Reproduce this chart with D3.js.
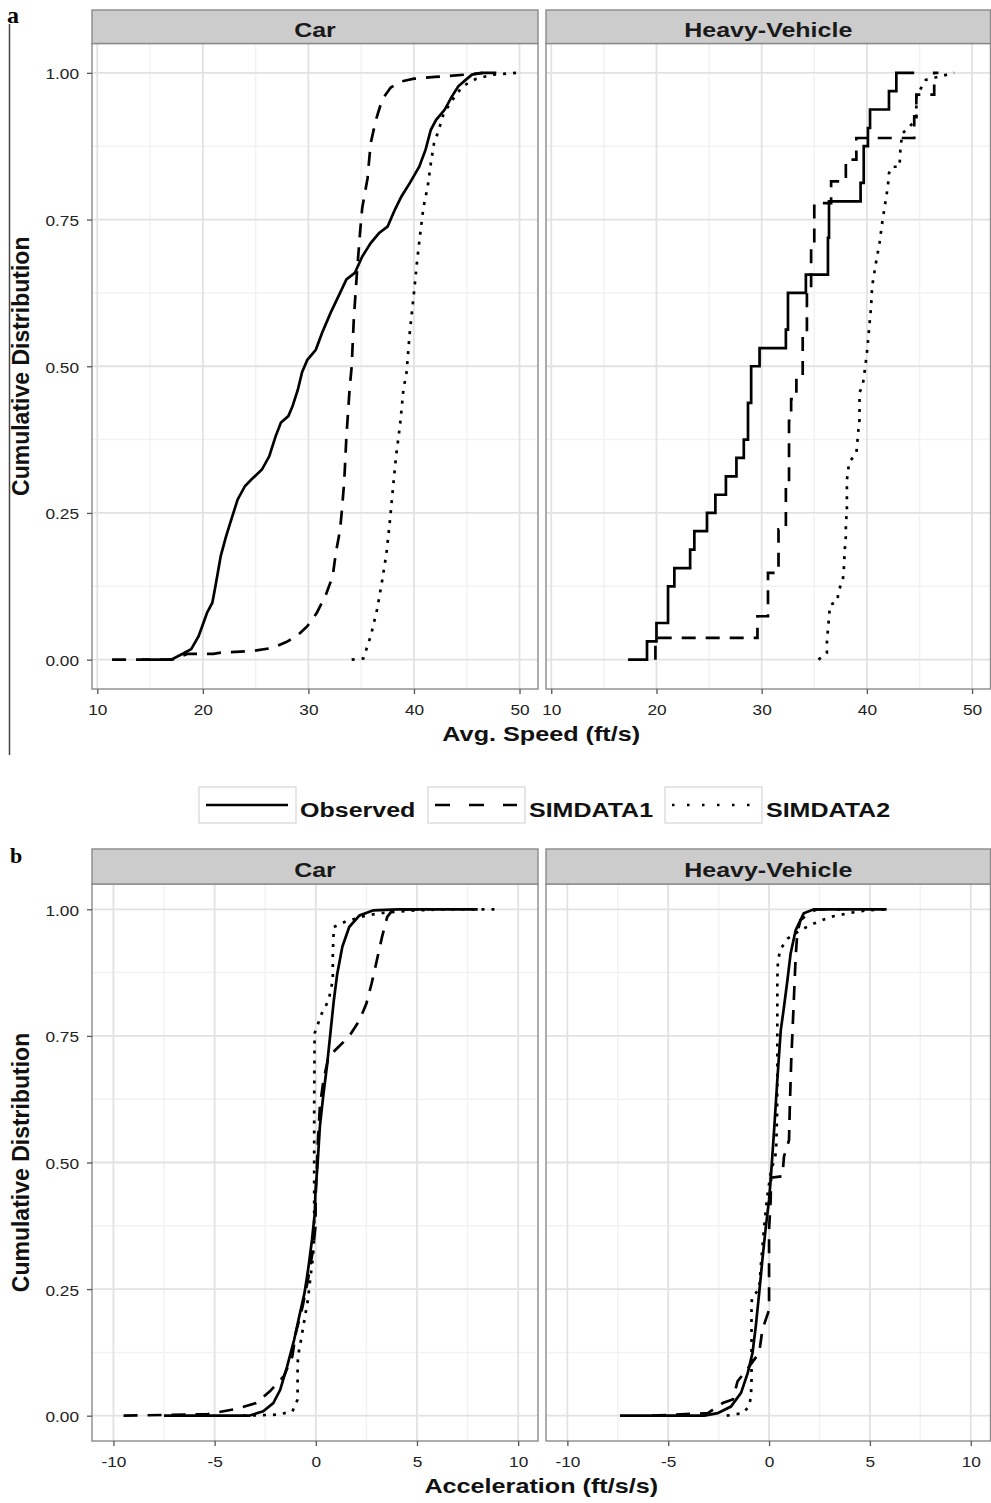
<!DOCTYPE html>
<html>
<head>
<meta charset="utf-8">
<script src="https://cdn.jsdelivr.net/npm/d3@7/dist/d3.min.js"></script>
<style>
  body { margin: 0; background: #fff; }
</style>
</head>
<body>
<div id="chart"></div>
<script>
// ---- data: [x, cumulative share] ----
var facets = ["Car", "Heavy-Vehicle"];
var seriesNames = ["Observed", "SIMDATA1", "SIMDATA2"];

var speedTicks = [10, 20, 30, 40, 50];
var speedMinor = [15, 25, 35, 45];
var accelTicks = [-10, -5, 0, 5, 10];
var accelMinor = [-7.5, -2.5, 2.5, 7.5];
var cdfTicks = [0, 0.25, 0.5, 0.75, 1];
var cdfMinor = [0.125, 0.375, 0.625, 0.875];

// (a) average speed, car
var speedCarObs = [[14.2,0],[17.0,0],[18.1,0.01],[18.9,0.018],[19.6,0.04],[20.4,0.08],[20.9,0.097],[21.2,0.126],[21.7,0.177],[22.2,0.21],[22.7,0.239],[23.3,0.273],[24.0,0.296],[24.6,0.307],[25.6,0.324],[26.3,0.347],[26.9,0.381],[27.4,0.404],[28.1,0.415],[28.5,0.432],[29.0,0.46],[29.4,0.49],[29.9,0.511],[30.7,0.528],[31.3,0.557],[32.1,0.591],[33.0,0.625],[33.6,0.648],[34.4,0.659],[35.1,0.687],[35.9,0.71],[36.7,0.727],[37.5,0.738],[38.2,0.767],[38.8,0.789],[39.6,0.812],[40.5,0.84],[41.1,0.869],[41.6,0.903],[42.1,0.92],[42.9,0.937],[43.6,0.96],[44.2,0.977],[44.9,0.988],[45.5,0.997],[46.5,1],[47.8,1]];
var speedCarSim1 = [[11.4,0],[17.1,0],[18.6,0.01],[21.0,0.01],[21.7,0.012],[24.8,0.015],[26.6,0.02],[27.9,0.03],[28.9,0.04],[29.9,0.057],[30.8,0.08],[31.6,0.108],[32.3,0.142],[32.6,0.182],[33.0,0.221],[33.2,0.26],[33.4,0.306],[33.6,0.38],[33.9,0.46],[34.1,0.5],[34.3,0.58],[34.6,0.66],[34.9,0.73],[35.1,0.77],[35.6,0.82],[35.9,0.88],[36.4,0.92],[37.0,0.955],[37.8,0.975],[38.7,0.985],[40.0,0.99],[42.0,0.993],[44.9,0.997],[46.5,1]];
var speedCarSim2 = [[34.1,0],[35.2,0.002],[35.9,0.04],[36.5,0.085],[37.0,0.136],[37.4,0.182],[37.7,0.233],[38.0,0.29],[38.3,0.346],[38.7,0.403],[39.0,0.46],[39.3,0.49],[39.6,0.557],[40.0,0.625],[40.3,0.68],[40.6,0.727],[40.9,0.771],[41.3,0.806],[41.6,0.846],[41.9,0.88],[42.3,0.9],[42.8,0.93],[43.6,0.953],[44.6,0.977],[45.9,0.99],[47.5,0.997],[49.8,1]];

// (a) average speed, heavy vehicle (step points)
var speedHeavyObs = [[17.3,0],[19.1,0.031],[20.0,0.0625],[21.1,0.125],[21.7,0.156],[23.2,0.1875],[23.6,0.219],[24.8,0.25],[25.6,0.281],[26.6,0.3125],[27.6,0.344],[28.3,0.375],[28.7,0.4375],[29.0,0.5],[29.8,0.531],[32.3,0.5625],[32.5,0.625],[34.2,0.656],[36.3,0.719],[36.4,0.781],[39.4,0.8125],[39.7,0.875],[40.1,0.906],[40.3,0.9375],[42.1,0.969],[42.8,1],[44.5,1]];
var speedHeavySim1 = [[19.9,0],[19.9,0.037],[29.6,0.074],[30.6,0.148],[31.6,0.222],[32.3,0.296],[32.6,0.407],[32.8,0.444],[33.3,0.481],[33.9,0.556],[34.3,0.63],[34.7,0.704],[35.0,0.778],[36.6,0.815],[38.0,0.852],[39.0,0.889],[44.5,0.926],[44.7,0.963],[46.4,1],[46.8,1]];
var speedHeavySim2 = [[35.4,0],[36.2,0.012],[36.2,0.029],[36.3,0.052],[36.4,0.072],[36.5,0.093],[37.2,0.1],[37.3,0.118],[37.7,0.133],[37.8,0.152],[37.9,0.188],[38.0,0.21],[38.0,0.23],[38.1,0.253],[38.1,0.28],[38.1,0.307],[38.2,0.318],[38.3,0.336],[39.0,0.352],[39.1,0.372],[39.2,0.392],[39.3,0.409],[39.3,0.432],[39.3,0.455],[39.6,0.468],[39.75,0.486],[40.0,0.522],[40.2,0.562],[40.4,0.602],[40.5,0.636],[40.8,0.67],[41.2,0.71],[41.5,0.75],[41.8,0.784],[42.0,0.807],[42.1,0.829],[42.4,0.84],[43.1,0.84],[43.2,0.875],[43.4,0.897],[44.7,0.92],[44.7,0.96],[45.6,0.988],[48.3,1]];

// (b) acceleration, car
var accelCarObs = [[-7.5,0],[-3.3,0],[-2.6,0.0085],[-2.1,0.025],[-1.76,0.051],[-1.42,0.097],[-1.07,0.15],[-0.82,0.196],[-0.56,0.242],[-0.36,0.294],[-0.19,0.347],[-0.05,0.4],[-0.02,0.44],[0.09,0.498],[0.2,0.571],[0.38,0.636],[0.55,0.69],[0.72,0.755],[0.89,0.82],[1.06,0.873],[1.31,0.926],[1.65,0.965],[2.16,0.988],[2.85,0.998],[4.04,1],[8.0,1]];
var accelCarSim1 = [[-9.5,0],[-5.34,0.003],[-3.97,0.013],[-2.95,0.025],[-2.27,0.048],[-1.58,0.078],[-1.16,0.117],[-0.99,0.163],[-0.65,0.216],[-0.39,0.268],[-0.14,0.327],[-0.02,0.373],[0,0.44],[0.09,0.531],[0.2,0.611],[0.38,0.663],[0.63,0.709],[1.14,0.729],[1.65,0.749],[2.16,0.781],[2.5,0.814],[2.76,0.854],[3.02,0.9],[3.27,0.945],[3.53,0.985],[3.78,0.998],[4.55,1],[5.6,1]];
var accelCarSim2 = [[-3.6,0],[-1.93,0.002],[-1.16,0.008],[-0.9,0.032],[-0.9,0.097],[-0.88,0.117],[-0.73,0.15],[-0.56,0.19],[-0.39,0.229],[-0.26,0.275],[-0.14,0.314],[-0.08,0.353],[-0.08,0.4],[-0.08,0.465],[-0.08,0.531],[-0.08,0.611],[-0.07,0.683],[-0.06,0.755],[0.29,0.794],[0.63,0.82],[0.84,0.86],[0.84,0.913],[0.89,0.965],[1.48,0.976],[2.5,0.988],[3.53,0.994],[4.89,0.998],[6.6,1],[8.9,1]];

// (b) acceleration, heavy vehicle
var accelHeavyObs = [[-7.39,0],[-3.2,0],[-2.55,0.005],[-1.89,0.018],[-1.39,0.045],[-1.06,0.084],[-0.82,0.124],[-0.66,0.176],[-0.49,0.242],[-0.33,0.308],[-0.16,0.373],[0,0.426],[0.08,0.465],[0.25,0.564],[0.41,0.663],[0.58,0.761],[0.74,0.807],[0.91,0.86],[1.07,0.913],[1.32,0.959],[1.72,0.992],[2.22,1],[5.83,1]];
var accelHeavySim1 = [[-5.8,0],[-3.03,0.005],[-2.3,0.025],[-1.8,0.032],[-1.56,0.068],[-0.99,0.097],[-0.49,0.124],[-0.33,0.17],[0,0.209],[0,0.262],[0,0.308],[0,0.367],[0.08,0.426],[0.1,0.47],[0.66,0.473],[0.74,0.512],[0.99,0.544],[1.03,0.611],[1.1,0.702],[1.2,0.794],[1.27,0.86],[1.32,0.907],[1.4,0.953],[1.56,0.979],[2.05,0.994],[2.38,1],[3.53,1]];
var accelHeavySim2 = [[-2.1,0],[-1.31,0.005],[-0.99,0.018],[-0.9,0.038],[-0.87,0.064],[-0.87,0.097],[-0.87,0.163],[-0.87,0.209],[-0.85,0.235],[-0.49,0.249],[-0.4,0.3],[-0.25,0.37],[-0.1,0.43],[0.08,0.479],[0.35,0.52],[0.4,0.6],[0.41,0.68],[0.41,0.76],[0.41,0.81],[0.41,0.86],[0.44,0.9],[0.58,0.922],[0.91,0.942],[1.56,0.959],[2.22,0.972],[3.04,0.985],[4.03,0.993],[4.85,0.998],[5.92,1]];

// ---- layout ----
var svgWidth = 991;
var svgHeight = 1503;
var fontFamily = "'Liberation Sans', Arial, Helvetica, sans-serif";

var panelX = {"Car": [92, 538], "Heavy-Vehicle": [546, 990.5]};

var figures = [
  {
    label: "a", labelX: 7, labelY: 23, labelSize: 24,
    stripTop: 10, panelTop: 43.5, panelBottom: 689,
    xDomain: [9.5, 51.75], ticks: speedTicks, minor: speedMinor,
    title: "Avg. Speed (ft/s)", titleY: 741,
    series: {"Car": [speedCarObs, speedCarSim1, speedCarSim2],
             "Heavy-Vehicle": [speedHeavyObs, speedHeavySim1, speedHeavySim2]},
    stepped: {"Car": [false, false, false], "Heavy-Vehicle": [true, true, false]}
  },
  {
    label: "b", labelX: 10, labelY: 863, labelSize: 22,
    stripTop: 849, panelTop: 884, panelBottom: 1441,
    xDomain: [-11.06, 10.98], ticks: accelTicks, minor: accelMinor,
    title: "Acceleration (ft/s/s)", titleY: 1493,
    series: {"Car": [accelCarObs, accelCarSim1, accelCarSim2],
             "Heavy-Vehicle": [accelHeavyObs, accelHeavySim1, accelHeavySim2]},
    stepped: {"Car": [false, false, false], "Heavy-Vehicle": [false, false, false]}
  }
];

// line types: solid, dashed, dotted
var dashes = [null, "14,10", "3,7"];
var legendDashes = [null, "15,19", "2.5,12.5"];

var svg = d3.select("#chart")
  .append("svg")
  .attr("width", svgWidth)
  .attr("height", svgHeight)
  .style("font-family", fontFamily);

svg.append("rect")
  .attr("width", svgWidth)
  .attr("height", svgHeight)
  .attr("fill", "#fff");

figures.forEach(function(fig, fi) {

  var y = d3.scaleLinear()
    .domain([-0.05, 1.05])
    .range([fig.panelBottom, fig.panelTop]);

  facets.forEach(function(facet, pi) {
    var px = panelX[facet];
    var x = d3.scaleLinear()
      .domain(fig.xDomain)
      .range(px);

    var g = svg.append("g");
    var clipId = "clip-" + fi + "-" + pi;

    g.append("clipPath")
      .attr("id", clipId)
      .append("rect")
      .attr("x", px[0])
      .attr("y", fig.panelTop)
      .attr("width", px[1] - px[0])
      .attr("height", fig.panelBottom - fig.panelTop);

    // minor grid
    g.selectAll(".vminor")
      .data(fig.minor)
      .enter()
      .append("line")
      .attr("x1", d => x(d)).attr("x2", d => x(d))
      .attr("y1", fig.panelTop).attr("y2", fig.panelBottom)
      .attr("stroke", "#f2f2f2").attr("stroke-width", 1.5);

    g.selectAll(".hminor")
      .data(cdfMinor)
      .enter()
      .append("line")
      .attr("x1", px[0]).attr("x2", px[1])
      .attr("y1", d => y(d)).attr("y2", d => y(d))
      .attr("stroke", "#f2f2f2").attr("stroke-width", 1.5);

    // major grid
    g.selectAll(".vmajor")
      .data(fig.ticks)
      .enter()
      .append("line")
      .attr("x1", d => x(d)).attr("x2", d => x(d))
      .attr("y1", fig.panelTop).attr("y2", fig.panelBottom)
      .attr("stroke", "#e2e2e2").attr("stroke-width", 1.8);

    g.selectAll(".hmajor")
      .data(cdfTicks)
      .enter()
      .append("line")
      .attr("x1", px[0]).attr("x2", px[1])
      .attr("y1", d => y(d)).attr("y2", d => y(d))
      .attr("stroke", "#e2e2e2").attr("stroke-width", 1.8);

    // the three cumulative curves
    var lines = g.append("g").attr("clip-path", "url(#" + clipId + ")");
    fig.series[facet].forEach(function(values, si) {
      var line = d3.line()
        .x(d => x(d[0]))
        .y(d => y(d[1]))
        .curve(fig.stepped[facet][si] ? d3.curveStepAfter : d3.curveLinear);

      lines.append("path")
        .datum(values)
        .attr("d", line)
        .attr("fill", "none")
        .attr("stroke", "#000")
        .attr("stroke-width", 2.7)
        .attr("stroke-linejoin", "miter")
        .attr("stroke-dasharray", dashes[si]);
    });

    // panel border
    g.append("rect")
      .attr("x", px[0])
      .attr("y", fig.panelTop)
      .attr("width", px[1] - px[0])
      .attr("height", fig.panelBottom - fig.panelTop)
      .attr("fill", "none")
      .attr("stroke", "#8a8a8a")
      .attr("stroke-width", 1.4);

    // strip
    g.append("rect")
      .attr("x", px[0])
      .attr("y", fig.stripTop)
      .attr("width", px[1] - px[0])
      .attr("height", fig.panelTop - fig.stripTop)
      .attr("fill", "#cccccc")
      .attr("stroke", "#8a8a8a")
      .attr("stroke-width", 1.4);

    g.append("text")
      .attr("transform", `translate(${(px[0] + px[1]) / 2}, ${fig.panelTop - 7}) scale(1.19,1)`)
      .attr("text-anchor", "middle")
      .attr("font-size", 21)
      .attr("font-weight", "bold")
      .attr("fill", "#1a1a1a")
      .text(facet);

    // x axis
    var bottomAxis = d3.axisBottom(x)
      .tickValues(fig.ticks)
      .tickSize(5)
      .tickPadding(10.5)
      .tickFormat(d => String(d));

    var gx = svg.append("g")
      .attr("transform", `translate(0, ${fig.panelBottom})`)
      .call(bottomAxis)
      .attr("font-family", fontFamily);
    gx.select(".domain").remove();
    gx.selectAll(".tick line").attr("stroke", "#555").attr("stroke-width", 1.3);
    gx.selectAll(".tick text")
      .attr("font-size", 15)
      .attr("fill", "#222")
      .attr("transform", "scale(1.15,1)");

    // y axis only on the left facet
    if (pi === 0) {
      var leftAxis = d3.axisLeft(y)
        .tickValues(cdfTicks)
        .tickSize(5)
        .tickPadding(6.3)
        .tickFormat(d3.format(".2f"));

      var gy = svg.append("g")
        .attr("transform", `translate(${px[0]}, 0)`)
        .call(leftAxis)
        .attr("font-family", fontFamily);
      gy.select(".domain").remove();
      gy.selectAll(".tick line").attr("stroke", "#555").attr("stroke-width", 1.3);
      gy.selectAll(".tick text")
        .attr("font-size", 15)
        .attr("fill", "#222")
        .attr("dy", "0.4em")
        .attr("transform", "scale(1.15,1)");
    }
  });

  // axis titles
  svg.append("text")
    .attr("transform", `translate(${(panelX["Car"][0] + panelX["Heavy-Vehicle"][1]) / 2}, ${fig.titleY}) scale(1.26,1)`)
    .attr("text-anchor", "middle")
    .attr("font-size", 20)
    .attr("font-weight", "bold")
    .attr("fill", "#111")
    .text(fig.title);

  svg.append("text")
    .attr("transform", `translate(29, ${(fig.panelTop + fig.panelBottom) / 2}) rotate(-90)`)
    .attr("text-anchor", "middle")
    .attr("font-size", 23)
    .attr("font-weight", "bold")
    .attr("fill", "#111")
    .text("Cumulative Distribution");

  // sub-figure letter
  svg.append("text")
    .attr("x", fig.labelX)
    .attr("y", fig.labelY)
    .attr("font-family", "'Liberation Serif', 'Times New Roman', serif")
    .attr("font-size", fig.labelSize)
    .attr("font-weight", "bold")
    .attr("fill", "#000")
    .text(fig.label);
});

// left rule of sub-figure a
svg.append("line")
  .attr("x1", 9.5).attr("x2", 9.5)
  .attr("y1", 24).attr("y2", 755)
  .attr("stroke", "#444")
  .attr("stroke-width", 1.5);

// ---- legend ----
var legendBoxX = [199, 428, 665];
var legendBoxW = 97;
var legendTop = 787;
var legendH = 36;

var legend = svg.append("g");
seriesNames.forEach(function(name, i) {
  var bx = legendBoxX[i];
  legend.append("rect")
    .attr("x", bx)
    .attr("y", legendTop)
    .attr("width", legendBoxW)
    .attr("height", legendH)
    .attr("fill", "#fff")
    .attr("stroke", "#d6d6d6")
    .attr("stroke-width", 1.2);

  legend.append("line")
    .attr("x1", bx + 7)
    .attr("x2", bx + legendBoxW - 8)
    .attr("y1", legendTop + legendH / 2)
    .attr("y2", legendTop + legendH / 2)
    .attr("stroke", "#000")
    .attr("stroke-width", 2.6)
    .attr("stroke-dasharray", legendDashes[i]);

  legend.append("text")
    .attr("transform", `translate(${bx + legendBoxW + 4}, ${legendTop + 29.5}) scale(1.22,1)`)
    .attr("font-size", 20.5)
    .attr("font-weight", "bold")
    .attr("fill", "#111")
    .text(name);
});
</script>
</body>
</html>
